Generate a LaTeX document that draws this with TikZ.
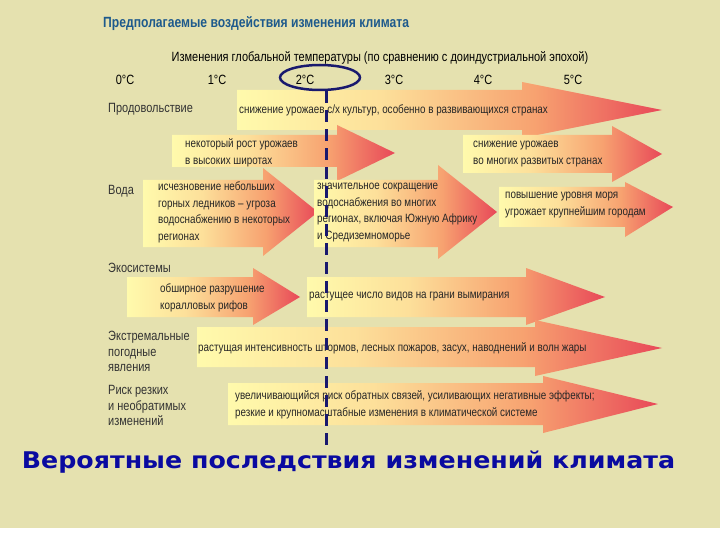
\documentclass[tikz,border=0pt]{standalone}
\usepackage{fontspec}
\setmainfont{Liberation Sans}[FakeStretch=0.82]
\newfontfamily\bannerfont{DejaVu Sans}[FakeStretch=1.1]
\usetikzlibrary{shapes.geometric}

\definecolor{page}{RGB}{229,225,175}
\definecolor{ayellow}{RGB}{255,250,172}
\definecolor{aorange}{RGB}{247,162,112}
\definecolor{ared}{RGB}{232,72,88}
\definecolor{navy}{RGB}{25,25,110}
\definecolor{titleblue}{RGB}{30,90,140}
\definecolor{bannerblue}{RGB}{10,10,160}

\pgfdeclarehorizontalshading{heat}{100bp}{color(0bp)=(ayellow); color(25bp)=(ayellow); color(42bp)=(ayellow!70!aorange); color(60bp)=(aorange); color(75bp)=(ared); color(100bp)=(ared)}

\tikzset{
  heatarrow/.style={shading=heat},
  arrowtext/.style={anchor=west, align=left, inner sep=0pt, font=\fontsize{12}{16.5}\selectfont, text=black!85},
  rowlabel/.style={anchor=west, align=left, inner sep=0pt, font=\fontsize{13.4}{15.5}\selectfont, text=black!80},
  degree/.style={inner sep=0pt, font=\fontsize{13.4}{15}\selectfont},
  marker/.style={draw=navy, line width=2.5pt, ellipse, minimum width=80pt, minimum height=25pt, inner sep=0pt},
  dashline/.style={draw=navy, line width=3pt, dash pattern=on 12pt off 7pt}
  }

\begin{document}
\begin{tikzpicture}[x=1pt,y=-1pt]

  \fill[page] (0,0) rectangle (720,528);
  \fill[white] (0,528) rectangle (720,540);
  \path[use as bounding box] (0,0) rectangle (720,540);

  % arrows: left/top/bottom/head/head top/head bottom/tip/tip y
  \foreach \aL/\aT/\aB/\aH/\aHT/\aHB/\aX/\aY in {
      237/90/130/522/82/138/662/110,
      172/135/167/337/125/181/395/153,
      463/135/173/612/126/182/662/154,
      143/180/247/263/168/256/318/212,
      314/180/247/438/165/259/497/212,
      499/187/227/625/182/237/673/207,
      127/277/317/253/268/325/300/297,
      307/277/317/526/268/325/605/297,
      197/327/367/535/320/376/662/348,
      228/383/425/543/376/433/658/404} {
    \shade[heatarrow] (\aL,\aT) -- (\aH,\aT) -- (\aH,\aHT) -- (\aX,\aY) -- (\aH,\aHB) -- (\aH,\aB) -- (\aL,\aB) -- cycle;
  }

  \node[anchor=west, inner sep=0pt, font=\bfseries\fontsize{14.8}{16}\selectfont, text=titleblue] (title) at (103,24) {Предполагаемые воздействия изменения климата};
  \node[degree] (subtitle) at (380,58) {Изменения глобальной температуры (по сравнению с доиндустриальной эпохой)};
  \foreach \xd [count=\i from 0] in {125,217,305,394,483,573} {
    \node[degree] (deg\i) at (\xd,80) {\i°C};
  }

  \node[rowlabel] (food) at (108,109) {Продовольствие};
  \node[rowlabel] (water) at (108,191) {Вода};
  \node[rowlabel] (eco) at (108,268) {Экосистемы};
  \node[rowlabel] (extreme) at (108,351.5) {Экстремальные\\погодные\\явления};
  \node[rowlabel] (risk) at (108,405.5) {Риск резких\\и необратимых\\изменений};

  \node[arrowtext] (food1) at (239,110) {снижение урожаев с/х культур, особенно в развивающихся странах};
  \node[arrowtext] (food2) at (185,153) {некоторый рост урожаев\\в высоких широтах};
  \node[arrowtext] (food3) at (473,154) {снижение урожаев\\во многих развитых странах};
  \node[arrowtext] (water1) at (158,212.5) {исчезновение небольших\\горных ледников -- угроза\\водоснабжению в некоторых\\регионах};
  \node[arrowtext] (water2) at (317,212.5) {значительное сокращение\\водоснабжения во многих\\регионах, включая Южную Африку\\и Средиземноморье};
  \node[arrowtext] (water3) at (505,205) {повышение уровня моря\\угрожает крупнейшим городам};
  \node[arrowtext] (eco1) at (160,298) {обширное разрушение\\коралловых рифов};
  \node[arrowtext] (eco2) at (309,297) {растущее число видов на грани вымирания};
  \node[arrowtext] (extreme1) at (198,348) {растущая интенсивность штормов, лесных пожаров, засух, наводнений и волн жары};
  \node[arrowtext] (risk1) at (235,405) {увеличивающийся риск обратных связей, усиливающих негативные эффекты;\\резкие и крупномасштабные изменения в климатической системе};

  \node[marker] (twodeg) at (320,77.5) {};
  \coordinate (lineend) at (326,445);
  \draw[dashline] (twodeg.south -| lineend) -- (lineend);

  \node[anchor=base, inner sep=0pt, font=\bannerfont\bfseries\fontsize{23}{26}\selectfont, text=bannerblue] (banner) at (348.5,468) {Вероятные последствия изменений климата};

\end{tikzpicture}
\end{document}
